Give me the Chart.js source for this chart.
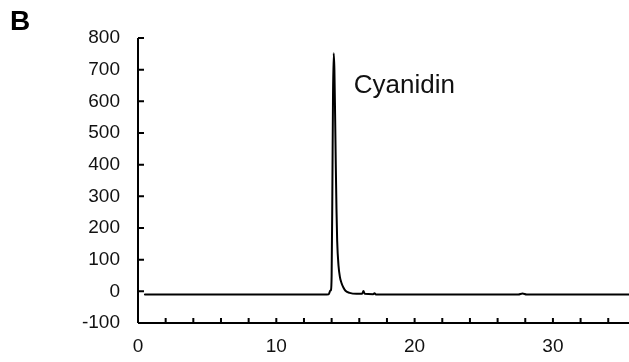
<!DOCTYPE html>
<html>
<head>
<meta charset="utf-8">
<script src="https://cdn.jsdelivr.net/npm/chart.js@4.4.1/dist/chart.umd.min.js"></script>
<style>
  html, body { margin: 0; padding: 0; background: #fff; }
  #wrap { position: relative; width: 629px; height: 362px; }
  #panel { position: absolute; left: 10px; top: 5px; font: bold 28px "Liberation Sans", Arial, sans-serif; color: #000; }
</style>
</head>
<body>
<div id="wrap">
  <canvas id="hplcChart" width="629" height="362"></canvas>
  <div id="panel">B</div>
</div>
<script>
// retention time (min) and absorbance (mAU)
const retentionTimes = [0.5, 5, 10, 12, 13.0, 13.8, 13.85, 13.9, 13.95, 14.0, 14.05, 14.1, 14.15, 14.2, 14.25, 14.3, 14.35, 14.4, 14.5, 14.6, 14.7, 14.85, 15.0, 15.3, 15.8, 16.2, 16.3, 16.4, 17.0, 17.1, 17.2, 20, 25, 27.5, 27.8, 28.1, 30, 35.5];
const absorbance = [-10, -10, -10, -10, -10, -9, -3, 2, 4, 50, 300, 620, 752, 700, 560, 400, 260, 160, 80, 45, 28, 12, 2, -5, -8, -8, 1, -8, -9, -6, -10, -10, -10, -10, -7, -10, -10, -10];

const yTicks = [-100, 0, 100, 200, 300, 400, 500, 600, 700, 800];
const xMinorTicks = [0, 2, 4, 6, 8, 10, 12, 14, 16, 18, 20, 22, 24, 26, 28, 30, 32, 34];
const peakName = 'Cyanidin';
const peakLabelPos = [15.6, 626];

const fontFamily = '"Liberation Sans", Arial, sans-serif';

// draws axis lines with inward ticks, plus the peak label
const axesPlugin = {
  id: 'axesPlugin',
  afterDraw(chart) {
    const ctx = chart.ctx;
    const xs = chart.scales.x;
    const ys = chart.scales.y;
    const x0 = xs.getPixelForValue(0);
    const yBottom = ys.getPixelForValue(-100);
    const yTop = ys.getPixelForValue(800);
    ctx.save();
    ctx.strokeStyle = '#000';
    ctx.lineWidth = 2;
    ctx.beginPath();
    ctx.moveTo(x0, yTop);
    ctx.lineTo(x0, yBottom);
    ctx.moveTo(x0, yBottom);
    ctx.lineTo(chart.width, yBottom);
    yTicks.forEach(v => {
      const py = ys.getPixelForValue(v);
      ctx.moveTo(x0, py);
      ctx.lineTo(x0 + 6, py);
    });
    xMinorTicks.forEach(v => {
      const px = xs.getPixelForValue(v);
      ctx.moveTo(px, yBottom);
      ctx.lineTo(px, yBottom - 5);
    });
    ctx.stroke();

    ctx.fillStyle = '#111';
    ctx.font = '26px ' + fontFamily;
    ctx.textAlign = 'left';
    ctx.textBaseline = 'alphabetic';
    ctx.fillText(peakName, xs.getPixelForValue(peakLabelPos[0]), ys.getPixelForValue(peakLabelPos[1]));
    ctx.restore();
  }
};

new Chart(document.getElementById('hplcChart').getContext('2d'), {
  type: 'line',
  data: {
    datasets: [{
      data: retentionTimes.map((t, i) => ({ x: t, y: absorbance[i] })),
      borderColor: '#000',
      borderWidth: 2,
      borderJoinStyle: 'round',
      borderCapStyle: 'round',
      pointRadius: 0,
      cubicInterpolationMode: 'monotone',
      fill: false
    }]
  },
  options: {
    responsive: false,
    animation: false,
    layout: { padding: { top: 38, left: 0, right: 0, bottom: 0 } },
    plugins: { legend: { display: false }, tooltip: { enabled: false } },
    scales: {
      x: {
        type: 'linear',
        min: 0,
        max: 35.5,
        grid: { display: false, drawTicks: false },
        border: { display: false },
        ticks: {
          stepSize: 10,
          includeBounds: false,
          padding: 12,
          color: '#111',
          font: { family: fontFamily, size: 19 }
        },
        afterFit: scale => { scale.height = 39; }
      },
      y: {
        min: -100,
        max: 800,
        grid: { display: false, drawTicks: false },
        border: { display: false },
        ticks: {
          stepSize: 100,
          padding: 18,
          color: '#111',
          font: { family: fontFamily, size: 19 }
        },
        afterFit: scale => { scale.width = 138; }
      }
    }
  },
  plugins: [axesPlugin]
});
</script>
</body>
</html>
